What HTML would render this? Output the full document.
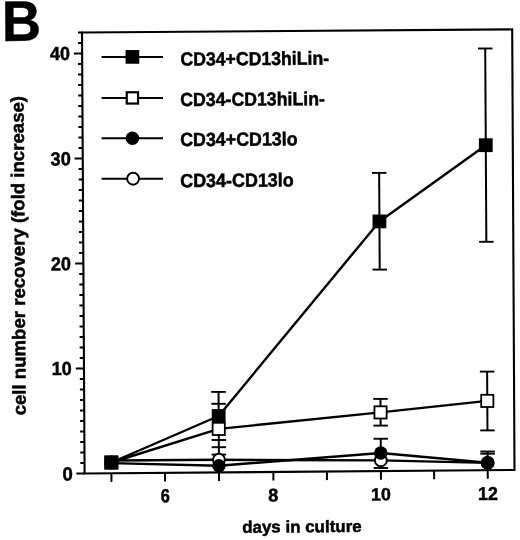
<!DOCTYPE html>
<html><head><meta charset="utf-8"><style>
html,body{margin:0;padding:0;background:#fff;}
svg{display:block;will-change:transform;}
text{font-family:"Liberation Sans",sans-serif;font-weight:bold;fill:#000;stroke:#000;}
</style></head><body>
<svg width="520" height="540" viewBox="0 0 520 540">
<rect width="520" height="540" fill="#fff"/>
<g stroke="#000" stroke-linecap="butt">
<polygon points="82.00,32.50 512.20,29.40 514.50,470.00 84.60,473.50" fill="none" stroke-width="2.1" stroke-linejoin="miter"/>
<line x1="78.00" y1="32.53" x2="82.50" y2="32.50" stroke-width="2.1"/>
<line x1="76.40" y1="473.56" x2="84.60" y2="473.50" stroke-width="2.0"/>
<line x1="80.34" y1="463.03" x2="84.54" y2="463.00" stroke-width="1.9"/>
<line x1="80.28" y1="452.53" x2="84.48" y2="452.50" stroke-width="1.9"/>
<line x1="80.21" y1="442.03" x2="84.41" y2="442.00" stroke-width="1.9"/>
<line x1="80.15" y1="431.53" x2="84.35" y2="431.50" stroke-width="1.9"/>
<line x1="80.09" y1="421.03" x2="84.29" y2="421.00" stroke-width="1.9"/>
<line x1="80.03" y1="410.53" x2="84.23" y2="410.50" stroke-width="1.9"/>
<line x1="79.97" y1="400.03" x2="84.17" y2="400.00" stroke-width="1.9"/>
<line x1="79.90" y1="389.53" x2="84.10" y2="389.50" stroke-width="1.9"/>
<line x1="79.84" y1="379.03" x2="84.04" y2="379.00" stroke-width="1.9"/>
<line x1="75.78" y1="368.56" x2="83.98" y2="368.50" stroke-width="2.0"/>
<line x1="79.72" y1="358.03" x2="83.92" y2="358.00" stroke-width="1.9"/>
<line x1="79.66" y1="347.53" x2="83.86" y2="347.50" stroke-width="1.9"/>
<line x1="79.60" y1="337.03" x2="83.80" y2="337.00" stroke-width="1.9"/>
<line x1="79.53" y1="326.53" x2="83.73" y2="326.50" stroke-width="1.9"/>
<line x1="79.47" y1="316.03" x2="83.67" y2="316.00" stroke-width="1.9"/>
<line x1="79.41" y1="305.53" x2="83.61" y2="305.50" stroke-width="1.9"/>
<line x1="79.35" y1="295.03" x2="83.55" y2="295.00" stroke-width="1.9"/>
<line x1="79.29" y1="284.53" x2="83.49" y2="284.50" stroke-width="1.9"/>
<line x1="79.22" y1="274.03" x2="83.42" y2="274.00" stroke-width="1.9"/>
<line x1="75.16" y1="263.56" x2="83.36" y2="263.50" stroke-width="2.0"/>
<line x1="79.10" y1="253.03" x2="83.30" y2="253.00" stroke-width="1.9"/>
<line x1="79.04" y1="242.53" x2="83.24" y2="242.50" stroke-width="1.9"/>
<line x1="78.98" y1="232.03" x2="83.18" y2="232.00" stroke-width="1.9"/>
<line x1="78.91" y1="221.53" x2="83.11" y2="221.50" stroke-width="1.9"/>
<line x1="78.85" y1="211.03" x2="83.05" y2="211.00" stroke-width="1.9"/>
<line x1="78.79" y1="200.53" x2="82.99" y2="200.50" stroke-width="1.9"/>
<line x1="78.73" y1="190.03" x2="82.93" y2="190.00" stroke-width="1.9"/>
<line x1="78.67" y1="179.53" x2="82.87" y2="179.50" stroke-width="1.9"/>
<line x1="78.60" y1="169.03" x2="82.80" y2="169.00" stroke-width="1.9"/>
<line x1="74.54" y1="158.56" x2="82.74" y2="158.50" stroke-width="2.0"/>
<line x1="78.48" y1="148.03" x2="82.68" y2="148.00" stroke-width="1.9"/>
<line x1="78.42" y1="137.53" x2="82.62" y2="137.50" stroke-width="1.9"/>
<line x1="78.36" y1="127.03" x2="82.56" y2="127.00" stroke-width="1.9"/>
<line x1="78.30" y1="116.53" x2="82.50" y2="116.50" stroke-width="1.9"/>
<line x1="78.23" y1="106.03" x2="82.43" y2="106.00" stroke-width="1.9"/>
<line x1="78.17" y1="95.53" x2="82.37" y2="95.50" stroke-width="1.9"/>
<line x1="78.11" y1="85.03" x2="82.31" y2="85.00" stroke-width="1.9"/>
<line x1="78.05" y1="74.53" x2="82.25" y2="74.50" stroke-width="1.9"/>
<line x1="77.99" y1="64.03" x2="82.19" y2="64.00" stroke-width="1.9"/>
<line x1="73.92" y1="53.56" x2="82.12" y2="53.50" stroke-width="2.0"/>
<line x1="77.86" y1="43.03" x2="82.06" y2="43.00" stroke-width="1.9"/>
<line x1="111.40" y1="473.28" x2="111.45" y2="481.88" stroke-width="2.0"/>
<line x1="165.00" y1="472.85" x2="165.05" y2="481.45" stroke-width="2.0"/>
<line x1="219.00" y1="472.41" x2="219.05" y2="481.01" stroke-width="2.0"/>
<line x1="273.35" y1="471.96" x2="273.40" y2="480.56" stroke-width="2.0"/>
<line x1="326.90" y1="471.53" x2="326.95" y2="480.13" stroke-width="2.0"/>
<line x1="380.90" y1="471.09" x2="380.95" y2="479.69" stroke-width="2.0"/>
<line x1="434.10" y1="470.65" x2="434.15" y2="479.25" stroke-width="2.0"/>
<line x1="487.70" y1="470.22" x2="487.75" y2="478.82" stroke-width="2.0"/>
</g>
<g stroke="#000">
<line x1="218.53" y1="391.90" x2="218.89" y2="454.60" stroke-width="2.0"/>
<line x1="211.28" y1="391.90" x2="225.78" y2="391.90" stroke-width="1.9"/>
<line x1="211.64" y1="454.60" x2="226.14" y2="454.60" stroke-width="1.9"/>
<line x1="211.35" y1="403.80" x2="225.85" y2="403.80" stroke-width="1.9"/>
<line x1="211.56" y1="440.00" x2="226.06" y2="440.00" stroke-width="1.9"/>
<line x1="211.60" y1="447.20" x2="226.10" y2="447.20" stroke-width="1.9"/>
<line x1="379.14" y1="172.90" x2="379.71" y2="269.60" stroke-width="2.0"/>
<line x1="371.89" y1="172.90" x2="386.39" y2="172.90" stroke-width="1.9"/>
<line x1="372.46" y1="269.60" x2="386.96" y2="269.60" stroke-width="1.9"/>
<line x1="380.47" y1="398.90" x2="380.63" y2="425.60" stroke-width="2.0"/>
<line x1="373.22" y1="398.90" x2="387.72" y2="398.90" stroke-width="1.9"/>
<line x1="373.38" y1="425.60" x2="387.88" y2="425.60" stroke-width="1.9"/>
<line x1="380.71" y1="438.75" x2="380.88" y2="468.00" stroke-width="2.0"/>
<line x1="373.46" y1="438.75" x2="387.96" y2="438.75" stroke-width="1.9"/>
<line x1="373.63" y1="468.00" x2="388.13" y2="468.00" stroke-width="1.9"/>
<line x1="485.21" y1="48.50" x2="486.35" y2="241.80" stroke-width="2.0"/>
<line x1="477.96" y1="48.50" x2="492.46" y2="48.50" stroke-width="1.9"/>
<line x1="479.10" y1="241.80" x2="493.60" y2="241.80" stroke-width="1.9"/>
<line x1="487.12" y1="371.60" x2="487.47" y2="430.40" stroke-width="2.0"/>
<line x1="479.87" y1="371.60" x2="494.37" y2="371.60" stroke-width="1.9"/>
<line x1="480.22" y1="430.40" x2="494.72" y2="430.40" stroke-width="1.9"/>
<line x1="487.59" y1="451.50" x2="487.65" y2="462.00" stroke-width="2.0"/>
<line x1="480.34" y1="451.50" x2="494.84" y2="451.50" stroke-width="1.9"/>
<line x1="480.35" y1="453.70" x2="494.85" y2="453.70" stroke-width="1.9"/>
<polyline fill="none" stroke-width="2.4" stroke-linejoin="round" points="111.32,460.50 218.93,459.80 380.84,460.40 487.66,462.90"/>
<polyline fill="none" stroke-width="2.4" stroke-linejoin="round" points="111.34,463.10 218.96,465.70 380.79,453.00 487.66,462.70"/>
<polyline fill="none" stroke-width="2.4" stroke-linejoin="round" points="111.34,462.50 218.74,428.90 380.55,412.40 487.29,400.90"/>
<polyline fill="none" stroke-width="2.4" stroke-linejoin="round" points="111.34,462.50 218.67,416.00 379.43,221.40 485.78,145.20"/>
<circle cx="111.34" cy="462.50" r="5.95" fill="#fff" stroke-width="1.95"/>
<circle cx="218.93" cy="459.80" r="5.95" fill="#fff" stroke-width="1.95"/>
<circle cx="380.84" cy="460.40" r="5.95" fill="#fff" stroke-width="1.95"/>
<circle cx="487.66" cy="462.90" r="5.95" fill="#fff" stroke-width="1.95"/>
<circle cx="111.34" cy="462.50" r="6.75" fill="#000" stroke="none"/>
<circle cx="218.96" cy="465.70" r="6.75" fill="#000" stroke="none"/>
<circle cx="380.79" cy="453.00" r="6.75" fill="#000" stroke="none"/>
<circle cx="487.66" cy="462.70" r="6.75" fill="#000" stroke="none"/>
<rect x="105.24" y="456.40" width="12.20" height="12.20" fill="#fff" stroke-width="1.8"/>
<rect x="212.64" y="422.80" width="12.20" height="12.20" fill="#fff" stroke-width="1.8"/>
<rect x="374.45" y="406.30" width="12.20" height="12.20" fill="#fff" stroke-width="1.8"/>
<rect x="481.19" y="394.80" width="12.20" height="12.20" fill="#fff" stroke-width="1.8"/>
<rect x="104.44" y="455.60" width="13.80" height="13.80" fill="#000" stroke="none"/>
<rect x="211.77" y="409.10" width="13.80" height="13.80" fill="#000" stroke="none"/>
<rect x="372.53" y="214.50" width="13.80" height="13.80" fill="#000" stroke="none"/>
<rect x="478.88" y="138.30" width="13.80" height="13.80" fill="#000" stroke="none"/>
</g>
<g stroke="#000">
<line x1="101.6" y1="56.9" x2="163.0" y2="56.9" stroke-width="2.0"/>
<rect x="125.55" y="50.05" width="13.70" height="13.70" fill="#000" stroke="none"/>
<line x1="101.6" y1="97.9" x2="163.0" y2="97.9" stroke-width="2.0"/>
<rect x="126.75" y="92.25" width="11.30" height="11.30" fill="#fff" stroke-width="2.2"/>
<line x1="101.6" y1="138.2" x2="163.0" y2="138.2" stroke-width="2.0"/>
<circle cx="132.40" cy="138.20" r="6.75" fill="#000" stroke="none"/>
<line x1="101.6" y1="178.7" x2="163.0" y2="178.7" stroke-width="2.0"/>
<circle cx="133.10" cy="178.70" r="5.95" fill="#fff" stroke-width="1.95"/>
</g>
<g>
<text transform="translate(2.00,40.88) rotate(-0.38) scale(0.9504,1.0013)" font-size="57" stroke-width="0.5">B</text>
<text transform="translate(180.49,65.61) rotate(-0.38) scale(0.9060,0.9695)" font-size="19.5" stroke-width="0.5">CD34+CD13hiLin-</text>
<text transform="translate(180.19,106.10) rotate(-0.38) scale(0.9093,0.9695)" font-size="19.5" stroke-width="0.5">CD34-CD13hiLin-</text>
<text transform="translate(180.19,146.10) rotate(-0.38) scale(0.9153,0.9763)" font-size="19.5" stroke-width="0.5">CD34+CD13lo</text>
<text transform="translate(180.19,187.19) rotate(-0.38) scale(0.9200,0.9763)" font-size="19.5" stroke-width="0.5">CD34-CD13lo</text>
<text transform="translate(50.04,59.99) rotate(-0.38) scale(0.9011,0.9424)" font-size="20" stroke-width="0.5">40</text>
<text transform="translate(50.62,165.40) rotate(-0.38) scale(0.9116,0.9424)" font-size="20" stroke-width="0.5">30</text>
<text transform="translate(50.94,270.39) rotate(-0.38) scale(0.8965,0.9424)" font-size="20" stroke-width="0.5">20</text>
<text transform="translate(51.84,375.00) rotate(-0.38) scale(0.9012,0.9424)" font-size="20" stroke-width="0.5">10</text>
<text transform="translate(62.58,480.56) rotate(-0.38) scale(0.9300,0.9492)" font-size="20" stroke-width="0.5">0</text>
<text transform="translate(160.63,502.36) rotate(-0.38) scale(0.8195,0.9424)" font-size="20" stroke-width="0.5">6</text>
<text transform="translate(268.29,501.38) rotate(-0.38) scale(0.9073,0.9153)" font-size="20" stroke-width="0.5">8</text>
<text transform="translate(371.05,500.43) rotate(-0.38) scale(0.8916,0.8814)" font-size="20" stroke-width="0.5">10</text>
<text transform="translate(478.05,500.03) rotate(-0.38) scale(0.8916,0.9310)" font-size="20" stroke-width="0.5">12</text>
<text transform="translate(242.13,532.70) rotate(-0.38) scale(0.9975,0.9846)" font-size="17" stroke-width="0.5">days in culture</text>
<text transform="translate(25.70,415.37) rotate(-90.38) scale(1.0060,0.9886)" font-size="18.5" stroke-width="0.5">cell number recovery (fold increase)</text>
</g>
</svg>
</body></html>
